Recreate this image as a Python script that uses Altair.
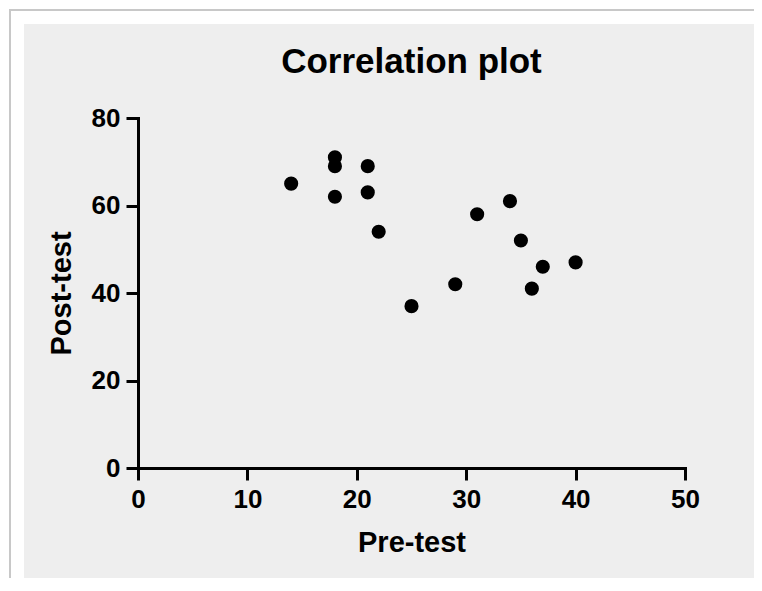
import altair as alt
import pandas as pd

pre_test = [14, 18, 18, 18, 21, 21, 22, 25, 29, 31, 34, 35, 36, 37, 40]
post_test = [65, 71, 69, 62, 69, 63, 54, 37, 42, 58, 61, 52, 41, 46, 47]

df = pd.DataFrame({"Pre-test": pre_test, "Post-test": post_test})
one = pd.DataFrame({"k": [0]})

FONT = "Liberation Sans"

frame = alt.Chart(one).mark_rect(fill="white", stroke="#c8c8c8", strokeWidth=2).encode(
    x=alt.value(-128), x2=alt.value(700), y=alt.value(-108), y2=alt.value(480)
)
panel = alt.Chart(one).mark_rect(fill="#eeeeee").encode(
    x=alt.value(-114), x2=alt.value(700), y=alt.value(-94), y2=alt.value(461)
)

axis_common = dict(
    grid=False,
    domainColor="black",
    domainWidth=3,
    tickColor="black",
    tickWidth=3,
    tickSize=12,
    labelFont=FONT,
    labelFontSize=26,
    labelFontWeight="bold",
    labelColor="black",
    labelFlush=False,
    titleFont=FONT,
    titleFontSize=29,
    titleFontWeight="bold",
    titleColor="black",
    zindex=1,
    domainCap="square",
)

points = alt.Chart(df).mark_circle(color="black", opacity=1, size=200).encode(
    x=alt.X("Pre-test:Q",
            scale=alt.Scale(domain=[0, 50], nice=False),
            axis=alt.Axis(values=[0, 10, 20, 30, 40, 50], labelPadding=6,
                          titlePadding=16, **axis_common)),
    y=alt.Y("Post-test:Q",
            scale=alt.Scale(domain=[0, 80], nice=False),
            axis=alt.Axis(values=[0, 20, 40, 60, 80], labelPadding=6,
                          titlePadding=15, **axis_common)),
)

chart = alt.layer(frame, panel, points).properties(
    width=547,
    height=350,
    title=alt.TitleParams("Correlation plot", font=FONT, fontSize=35,
                          fontWeight="bold", color="black", anchor="middle",
                          offset=0, dy=71),
    background="white",
    padding={"left": 130, "top": 110, "right": 69, "bottom": 110},
    autosize=alt.AutoSizeParams(type="none"),
).configure_view(stroke=None)

chart.save("out.html", embed_options={"renderer": "svg", "actions": False})
